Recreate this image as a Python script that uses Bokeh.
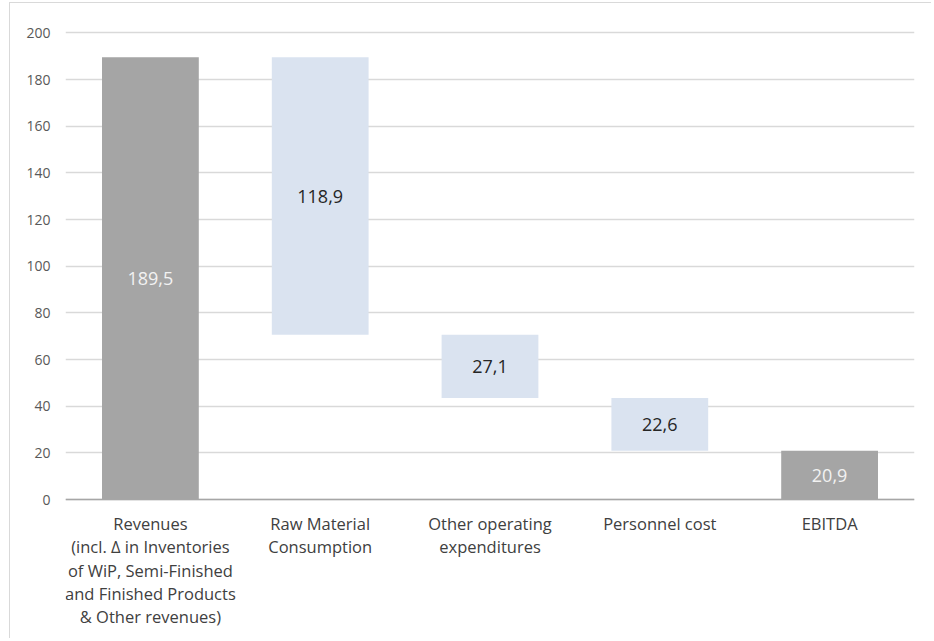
from bokeh.plotting import figure
from bokeh.models import ColumnDataSource, FixedTicker, Range1d, Span
from bokeh.core.properties import value
from bokeh.embed import file_html
from bokeh.resources import INLINE

categories = ["Revenues", "Raw Material", "Other operating", "Personnel cost", "EBITDA"]
tick_labels = [
    ["Revenues", "(incl. \u0394 in Inventories", "of WiP, Semi-Finished",
     "and Finished Products", "& Other revenues)"],
    ["Raw Material", "Consumption"],
    ["Other operating", "expenditures"],
    ["Personnel cost"],
    ["EBITDA"],
]
values = [189.5, 118.9, 27.1, 22.6, 20.9]
kinds = ["total", "decrease", "decrease", "decrease", "total"]
y_ticks = [0, 20, 40, 60, 80, 100, 120, 140, 160, 180, 200]

# waterfall geometry derived from the data
bottoms, tops = [], []
running = 0.0
for v, k in zip(values, kinds):
    if k == "total":
        bottoms.append(0.0)
        tops.append(v)
        running = v
    else:
        tops.append(running)
        running = running - v
        bottoms.append(running)

colors = ["#A5A5A5" if k == "total" else "#DAE3F0" for k in kinds]
text_colors = ["#F2F2F2" if k == "total" else "#262626" for k in kinds]
labels = [f"{v:.1f}".replace(".", ",") for v in values]
mids = [(b + t) / 2 for b, t in zip(bottoms, tops)]

src = ColumnDataSource(dict(cat=categories, bottom=bottoms, top=tops, color=colors,
                            tcolor=text_colors, label=labels, mid=mids))

FONT = "Open Sans"
Y_MAX = 201
PX_PER_UNIT = 469 / Y_MAX
BELOW_PX = 131
Y_MIN = -BELOW_PX / PX_PER_UNIT

p = figure(x_range=categories, y_range=Range1d(Y_MIN, Y_MAX), width=922, height=636,
           output_backend="svg", toolbar_location=None,
           min_border_left=55, min_border_right=18, min_border_top=27, min_border_bottom=9)
p.styles = {"border-top": "1px solid #D9D9D9", "border-left": "1px solid #D9D9D9",
            "margin-left": "9px", "margin-top": "2px"}
p.outline_line_color = None
p.background_fill_color = "white"
p.border_fill_color = "white"

p.vbar(x="cat", bottom="bottom", top="top", width=0.57, fill_color="color",
       line_color=None, source=src)
p.text(x="cat", y="mid", text="label", text_color="tcolor", text_align="center",
       text_baseline="middle", text_font=value(FONT), text_font_size="18px", source=src)

p.xgrid.grid_line_color = None
p.ygrid.grid_line_color = "#D9D9D9"
p.ygrid.grid_line_width = 1.5
p.ygrid.ticker = FixedTicker(ticks=y_ticks)

p.yaxis.ticker = FixedTicker(ticks=y_ticks)
p.yaxis.axis_line_color = None
p.yaxis.major_tick_line_color = None
p.yaxis.minor_tick_line_color = None
p.yaxis.major_label_text_font = FONT
p.yaxis.major_label_text_font_size = "14px"
p.yaxis.major_label_text_color = "#595959"
p.yaxis.major_label_standoff = 9

p.xaxis.visible = False
p.add_layout(Span(location=0, dimension="width", line_color="#A6A6A6", line_width=1.5))

# category labels, multi-line, centred below each bar
line_offsets_px = [23.5, 47, 70.5, 93.5, 116.5]
cx, cy, ct = [], [], []
for cat, lines in zip(categories, tick_labels):
    for j, line in enumerate(lines):
        cx.append(cat)
        cy.append(-line_offsets_px[j] / PX_PER_UNIT)
        ct.append(line)
p.text(x=cx, y=cy, text=ct, text_align="center", text_baseline="middle",
       text_font=value(FONT), text_font_size="16.5px", text_color="#404040")

open("out.html", "w").write(file_html(p, INLINE))
